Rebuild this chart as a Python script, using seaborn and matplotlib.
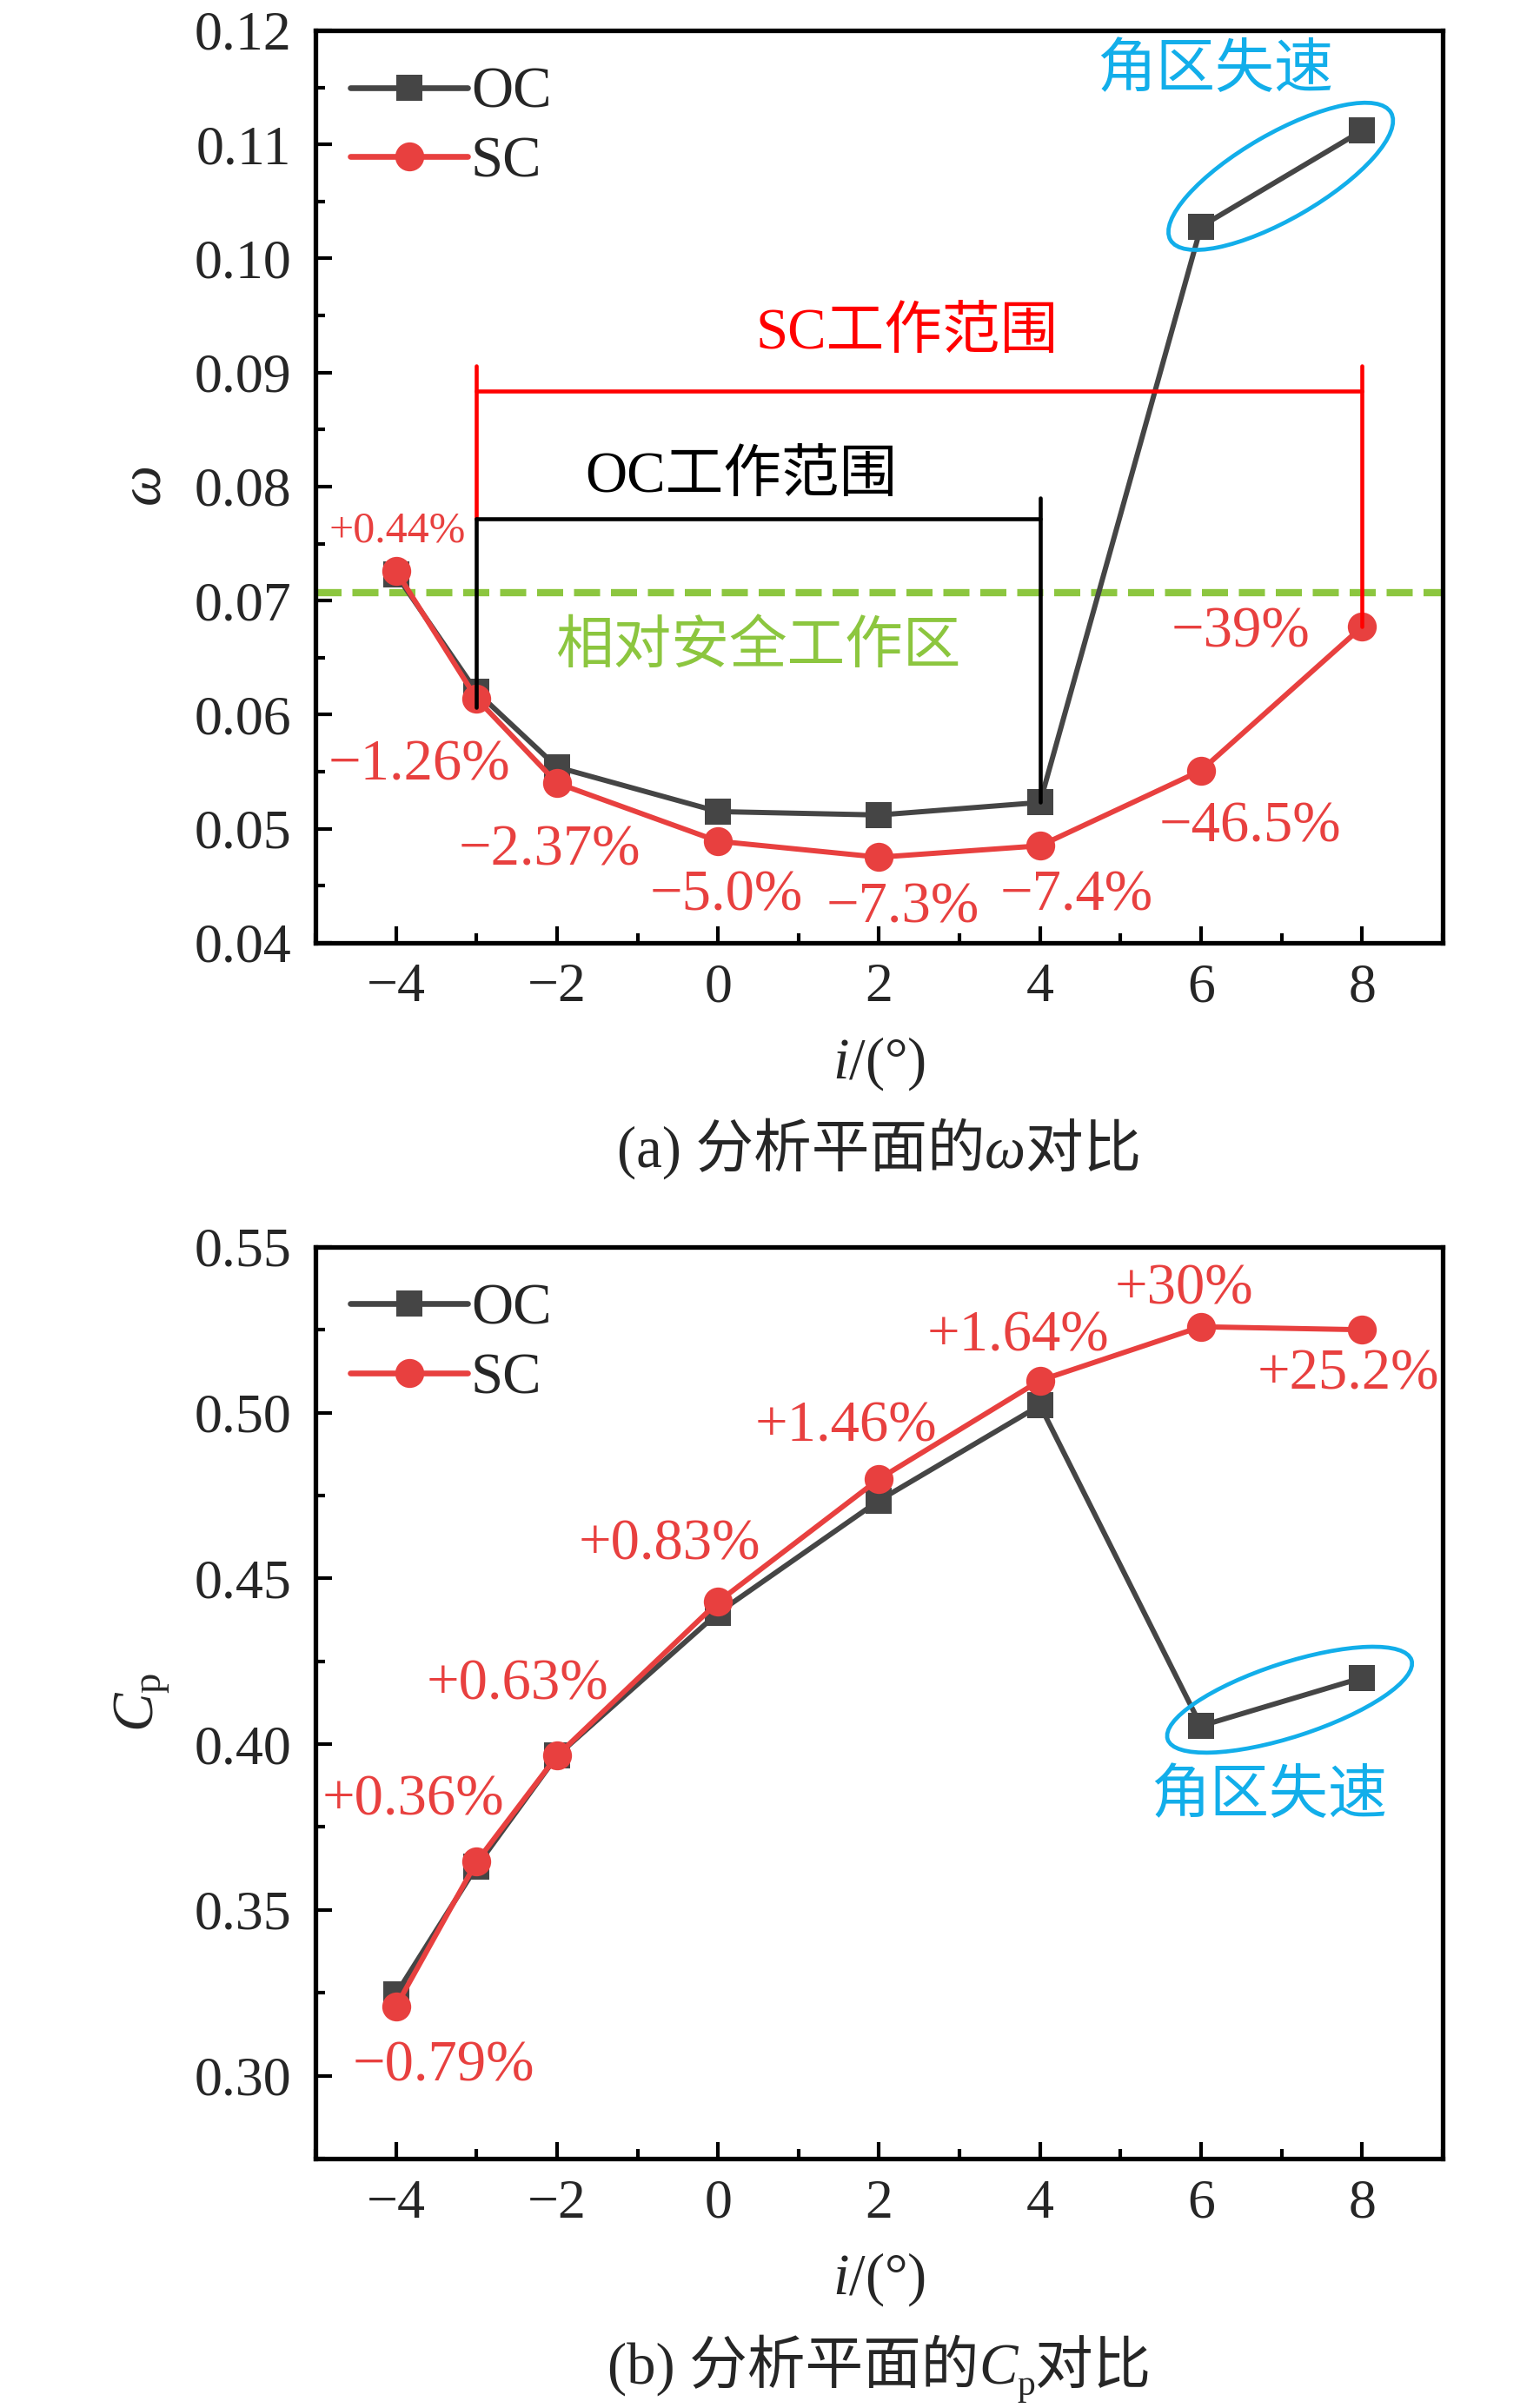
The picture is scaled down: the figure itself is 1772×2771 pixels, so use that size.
import numpy as np
import pandas as pd
import matplotlib
matplotlib.use('Agg')
import matplotlib.pyplot as plt
import matplotlib.transforms as mtransforms
from matplotlib.patches import Ellipse
from matplotlib.ticker import MultipleLocator, FormatStrFormatter
import seaborn as sns

# incidence angle i (deg) and the two cases
incidence = [-4, -3, -2, 0, 2, 4, 6, 8]
omega_oc = [0.0723, 0.0620, 0.0554, 0.0515, 0.0512, 0.0523, 0.1028, 0.1112]
omega_sc = [0.0726, 0.0614, 0.0540, 0.0489, 0.0475, 0.0485, 0.0551, 0.0677]
cp_oc = [0.3246, 0.3631, 0.3965, 0.4396, 0.4735, 0.5022, 0.4055, 0.4200]
cp_sc = [0.3209, 0.3645, 0.3965, 0.4429, 0.4800, 0.5097, 0.5259, 0.5250]

# relative change SC vs OC at each incidence
omega_change = ['+0.44%', '\u22121.26%', '\u22122.37%', '\u22125.0%', '\u22127.3%', '\u22127.4%', '\u221246.5%', '\u221239%']
cp_change = ['\u22120.79%', '+0.36%', '+0.63%', '+0.83%', '+1.46%', '+1.64%', '+30%', '+25.2%']

safe_level = 0.0707          # 相对安全工作区
sc_range = [-3, 8]           # SC工作范围
oc_range = [-3, 4]           # OC工作范围

# where the change labels sit (data coords)
omega_label_pos = [(-3.98, 0.0761), (-3.71, 0.0555), (-2.09, 0.0481), (0.10, 0.0441),
                   (2.30, 0.0430), (4.45, 0.0441), (6.61, 0.0501), (6.49, 0.0672)]
cp_label_pos = [(-3.41, 0.3027), (-3.79, 0.383), (-2.49, 0.4178), (-0.60, 0.460),
                (1.59, 0.4957), (3.73, 0.523), (5.79, 0.537), (7.83, 0.5115)]

GRAY = '#454545'
RED = '#E8403F'
PURE_RED = '#FF0000'
GREEN = '#8CC63F'
BLUE = '#12AEEA'
CJK = ['Liberation Serif', 'Noto Sans CJK SC']

sns.set_theme(style='ticks')
plt.rcParams['font.family'] = CJK
plt.rcParams['mathtext.fontset'] = 'custom'
plt.rcParams['mathtext.rm'] = 'Liberation Serif'
plt.rcParams['mathtext.it'] = 'Liberation Serif:italic'
plt.rcParams['axes.unicode_minus'] = True

omega_df = pd.DataFrame({'i': incidence * 2, 'val': omega_oc + omega_sc,
                         'case': ['OC'] * len(incidence) + ['SC'] * len(incidence)})
cp_df = pd.DataFrame({'i': incidence * 2, 'val': cp_oc + cp_sc,
                      'case': ['OC'] * len(incidence) + ['SC'] * len(incidence)})

fig = plt.figure(figsize=(17.72, 27.71), dpi=100)
ax1 = fig.add_axes([0.2049, 0.6085, 0.7318, 0.3789])
ax2 = fig.add_axes([0.2049, 0.1036, 0.7318, 0.3786])

LW = 4.3


def draw_lines(ax, df):
    sns.lineplot(data=df, x='i', y='val', hue='case', style='case', hue_order=['OC', 'SC'],
                 palette={'OC': GRAY, 'SC': RED}, markers={'OC': 's', 'SC': 'o'},
                 dashes=False, linewidth=LW, markeredgewidth=0, ax=ax, zorder=4)
    for ln in ax.lines:
        ln.set_markersize(22 if ln.get_marker() == 's' else 24)
    h, l = ax.get_legend_handles_labels()
    for hh in h:
        hh.set_markersize(22 if hh.get_marker() == 's' else 24)
        hh.set_linewidth(4.8)
        hh.set_solid_capstyle('round')
    ax.legend(h, l, loc='upper left', bbox_to_anchor=(0.031, 0.96), frameon=False,
              fontsize=48, handlelength=2.02, handletextpad=0.06, labelspacing=0.28,
              borderaxespad=0, borderpad=0)


def style_axes(ax):
    for s in ax.spines.values():
        s.set_linewidth(3.8)
        s.set_color('black')
    ax.tick_params(axis='both', which='major', direction='in', length=14, width=3,
                   labelsize=46, color='black')
    ax.tick_params(axis='both', which='minor', direction='in', length=8, width=3, color='black')
    ax.tick_params(axis='x', which='major', pad=17)
    ax.tick_params(axis='y', which='major', pad=20)
    ax.set_xlim(-5, 9)
    ax.xaxis.set_major_locator(MultipleLocator(2))
    ax.xaxis.set_minor_locator(MultipleLocator(1))
    ax.set_xlabel(r'$i$/(°)', fontsize=48, labelpad=18)


def ring(ax, xy, w, h, angle):
    tr = fig.dpi_scale_trans + mtransforms.ScaledTranslation(xy[0], xy[1], ax.transData)
    ax.add_patch(Ellipse((0, 0), w, h, angle=angle, transform=tr, fill=False,
                         ec=BLUE, lw=3.4, zorder=6))


# ---- (a) omega
draw_lines(ax1, omega_df)
style_axes(ax1)
ax1.set_ylim(0.04, 0.12)
ax1.yaxis.set_major_locator(MultipleLocator(0.01))
ax1.yaxis.set_minor_locator(MultipleLocator(0.005))
ax1.yaxis.set_major_formatter(FormatStrFormatter('%.2f'))
ax1.set_ylabel(r'$\omega$', fontsize=48, labelpad=18)

ax1.axhline(safe_level, color=GREEN, lw=6, dashes=(3.6, 1.5), zorder=2)
ax1.plot([sc_range[0]] * 2, [0.0906, 0.0772], color=PURE_RED, lw=3.3, zorder=5)
ax1.plot(sc_range, [0.0884] * 2, color=PURE_RED, lw=3.3, zorder=5)
ax1.plot([sc_range[1]] * 2, [0.0906, omega_sc[-1]], color=PURE_RED, lw=3.3, zorder=5)
ax1.plot([oc_range[0]] * 2, [0.0772, 0.0606], color='black', lw=3.3, zorder=5)
ax1.plot(oc_range, [0.0772] * 2, color='black', lw=3.3, zorder=5)
ax1.plot([oc_range[1]] * 2, [0.0790, omega_oc[5]], color='black', lw=3.3, zorder=5)

for k, (txt, pos) in enumerate(zip(omega_change, omega_label_pos)):
    ax1.text(pos[0], pos[1], txt, color=RED, fontsize=36 if k == 0 else 48,
             ha='center', va='center', zorder=7)
ax1.text(2.35, 0.0934, 'SC工作范围', color=PURE_RED, fontsize=48, ha='center', va='center')
ax1.text(0.29, 0.0808, 'OC工作范围', color='black', fontsize=48, ha='center', va='center')
ax1.text(0.50, 0.0658, '相对安全工作区', color=GREEN, fontsize=48, ha='center', va='center')
ax1.text(6.17, 0.1164, '角区失速', color=BLUE, fontsize=49, ha='center', va='center')
ring(ax1, (6.99, 0.1072), 2.93, 0.98, 30)

# ---- (b) Cp
draw_lines(ax2, cp_df)
style_axes(ax2)
ax2.set_ylim(0.275, 0.55)
ax2.yaxis.set_major_locator(MultipleLocator(0.05))
ax2.yaxis.set_minor_locator(MultipleLocator(0.025))
ax2.yaxis.set_major_formatter(FormatStrFormatter('%.2f'))
ax2.set_ylabel(r'$C_\mathrm{p}$', fontsize=48, labelpad=18)

for txt, pos in zip(cp_change, cp_label_pos):
    ax2.text(pos[0], pos[1], txt, color=RED, fontsize=48, ha='center', va='center', zorder=7)
ax2.text(6.84, 0.384, '角区失速', color=BLUE, fontsize=49, ha='center', va='center')
ring(ax2, (7.10, 0.4134), 2.95, 0.85, 18)


# captions built from pieces so italics / subscript can mix with CJK
def caption(xc, y, pieces):
    fig.canvas.draw()
    r = fig.canvas.get_renderer()
    W, H = fig.bbox.width, fig.bbox.height
    items = []
    for s, kw in pieces:
        kw = dict(kw)
        dy = kw.pop('dy', 0)
        items.append(fig.text(0, y + dy / H, s, ha='left', va='baseline', **kw))
    widths = [t.get_window_extent(r).width for t in items]
    x = xc * W - sum(widths) / 2
    for t, w in zip(items, widths):
        t.set_x(x / W)
        x += w


cap = dict(fontsize=48, family=CJK)
caption(0.5708, 1 - 1343 / 2771, [('(a) 分析平面的', cap),
                                  ('ω', dict(fontsize=48, family='Liberation Serif', style='italic')),
                                  ('对比', cap)])
caption(0.5708, 1 - 2743 / 2771, [('(b) 分析平面的', cap),
                                  ('C', dict(fontsize=48, family='Liberation Serif', style='italic')),
                                  ('p', dict(fontsize=30, family='Liberation Serif', dy=-13)),
                                  ('对比', cap)])

fig.savefig('out.png', dpi=100)
